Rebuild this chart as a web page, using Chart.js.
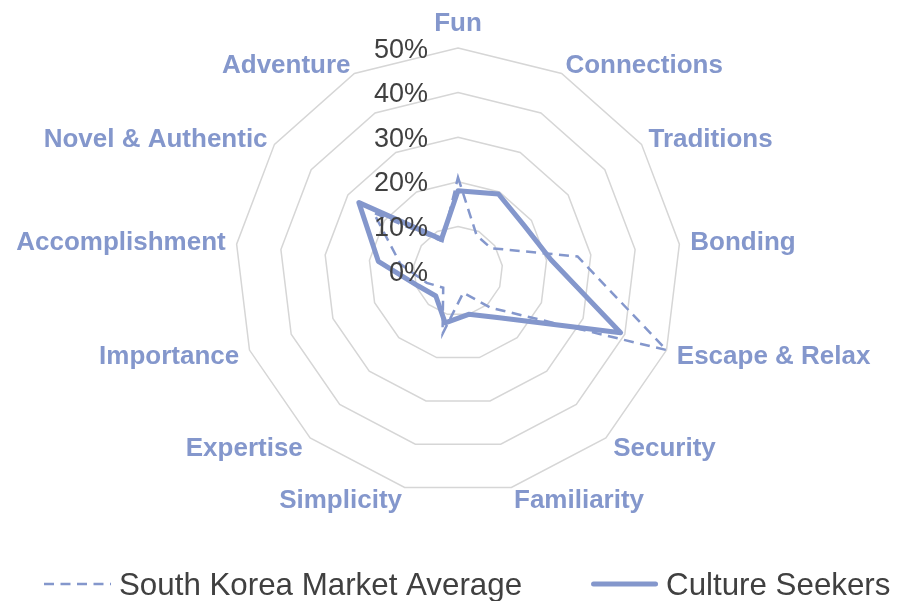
<!DOCTYPE html>
<html>
<head>
<meta charset="utf-8">
<script src="https://cdn.jsdelivr.net/npm/chart.js@4/dist/chart.umd.min.js"></script>
<style>
  html, body { margin: 0; padding: 0; background: #ffffff; }
  #wrap { width: 913px; height: 601px; }
</style>
</head>
<body>
<div id="wrap"><canvas id="c" width="913" height="601"></canvas></div>
<script>
// ---- data ----
const categories = ['Fun', 'Connections', 'Traditions', 'Bonding', 'Escape & Relax', 'Security',
  'Familiarity', 'Simplicity', 'Expertise', 'Importance', 'Accomplishment', 'Novel & Authentic', 'Adventure'];
const seriesNames = ['South Korea Market Average', 'Culture Seekers'];
const marketAverage = [0.21, 0.09, 0.09, 0.27, 0.50, 0.11, 0.05, 0.145, 0.05, 0.075, 0.13, 0.23, 0.075];
const cultureSeekers = [0.18, 0.195, 0.18, 0.21, 0.39, 0.14, 0.10, 0.12, 0.075, 0.095, 0.18, 0.27, 0.08];
const scaleMin = 0;
const scaleMax = 0.5;
const scaleStep = 0.1;

// ---- styling ----
const SERIES_COLOR = '#8497CC';
const TEXT_COLOR = '#404040';
const GRID_COLOR = '#d6d6d6';
const FONT = "'Liberation Sans', Arial, Helvetica, sans-serif";
const TARGET = { x: 458, y: 271, r: 223 };
// per-label gap between the outer ring and the label, and label line box height
const LABEL_PAD = [24.5, 8.2, 8.4, 11, 11, 11, 11, 11, 11, 11, 11, 8.4, 8.2];
const LABEL_LINE_HEIGHT = ['0px', '0px', '0px', '0px', '5px', '5px', '5px', '5px', '5px', '5px', '0px', '0px', '0px'];

const tickLabelPlugin = {
  id: 'tickLabelPlugin',
  afterDatasetsDraw(chart) {
    const s = chart.scales.r;
    const ctx = chart.ctx;
    ctx.save();
    ctx.font = '27px ' + FONT;
    ctx.fillStyle = TEXT_COLOR;
    ctx.textAlign = 'right';
    ctx.textBaseline = 'alphabetic';
    s.ticks.forEach(t => {
      const y = s.yCenter - s.getDistanceFromCenterForValue(t.value);
      ctx.fillText(t.label, s.xCenter - 30, y + 9.5);
    });
    ctx.restore();
  }
};

const legendPlugin = {
  id: 'legendPlugin',
  afterDraw(chart) {
    const ctx = chart.ctx;
    const lineY = 584, baseY = 594.5, lineLen = 67, textGap = 8, itemGap = 69;
    let x = 44;
    ctx.save();
    ctx.font = '31.3px ' + FONT;
    ctx.textBaseline = 'alphabetic';
    ctx.textAlign = 'left';
    chart.data.datasets.forEach(ds => {
      const dashed = ds.borderDash && ds.borderDash.length;
      ctx.beginPath();
      ctx.setLineDash(dashed ? ds.borderDash : []);
      ctx.lineWidth = ds.borderWidth;
      ctx.strokeStyle = ds.borderColor;
      ctx.lineCap = dashed ? 'butt' : 'round';
      const inset = dashed ? 0 : ds.borderWidth / 2;
      ctx.moveTo(x + inset, lineY);
      ctx.lineTo(x + lineLen - inset, lineY);
      ctx.stroke();
      ctx.setLineDash([]);
      ctx.fillStyle = TEXT_COLOR;
      ctx.fillText(ds.label, x + lineLen + textGap, baseY);
      x += lineLen + textGap + ctx.measureText(ds.label).width + itemGap;
    });
    ctx.restore();
  }
};

const pad = { left: 0, right: 14, top: 10, bottom: 91 };

const chart = new Chart(document.getElementById('c'), {
  type: 'radar',
  data: {
    labels: categories,
    datasets: [
      {
        label: seriesNames[0],
        data: marketAverage,
        borderColor: SERIES_COLOR,
        backgroundColor: 'rgba(0,0,0,0)',
        borderWidth: 2.5,
        borderDash: [10, 6.5],
        borderJoinStyle: 'miter',
        fill: false,
        pointRadius: 0,
        pointHoverRadius: 0,
        tension: 0,
        order: 2
      },
      {
        label: seriesNames[1],
        data: cultureSeekers,
        borderColor: SERIES_COLOR,
        backgroundColor: 'rgba(0,0,0,0)',
        borderWidth: 5,
        borderJoinStyle: 'round',
        borderCapStyle: 'round',
        fill: false,
        pointRadius: 0,
        pointHoverRadius: 0,
        tension: 0,
        order: 1
      }
    ]
  },
  options: {
    responsive: false,
    animation: false,
    devicePixelRatio: 1,
    layout: { padding: Object.assign({}, pad) },
    plugins: {
      legend: { display: false },
      tooltip: { enabled: false },
      title: { display: false }
    },
    scales: {
      r: {
        min: scaleMin,
        max: scaleMax,
        beginAtZero: true,
        angleLines: { display: false },
        grid: { display: true, circular: false, color: GRID_COLOR, lineWidth: 1.5 },
        ticks: {
          display: false,
          stepSize: scaleStep,
          callback: v => Math.round(v * 100) + '%'
        },
        pointLabels: {
          display: true,
          color: SERIES_COLOR,
          font: ctx => ({ family: FONT, size: 26, weight: 'bold', lineHeight: LABEL_LINE_HEIGHT[ctx.index] }),
          padding: ctx => LABEL_PAD[ctx.index]
        }
      }
    }
  },
  plugins: [tickLabelPlugin, legendPlugin]
});

// settle the radar centre and radius on the reference layout by adjusting layout padding
for (let k = 0; k < 12; k++) {
  const s = chart.scales.r;
  const ex = TARGET.x - s.xCenter, ey = TARGET.y - s.yCenter, er = TARGET.r - s.drawingArea;
  if (ex === 0 && ey === 0 && er === 0) break;
  pad.left += ex - er; pad.right += -ex - er; pad.top += ey - er; pad.bottom += -ey - er;
  chart.options.layout.padding = Object.assign({}, pad);
  chart.update('none');
}
</script>
</body>
</html>
